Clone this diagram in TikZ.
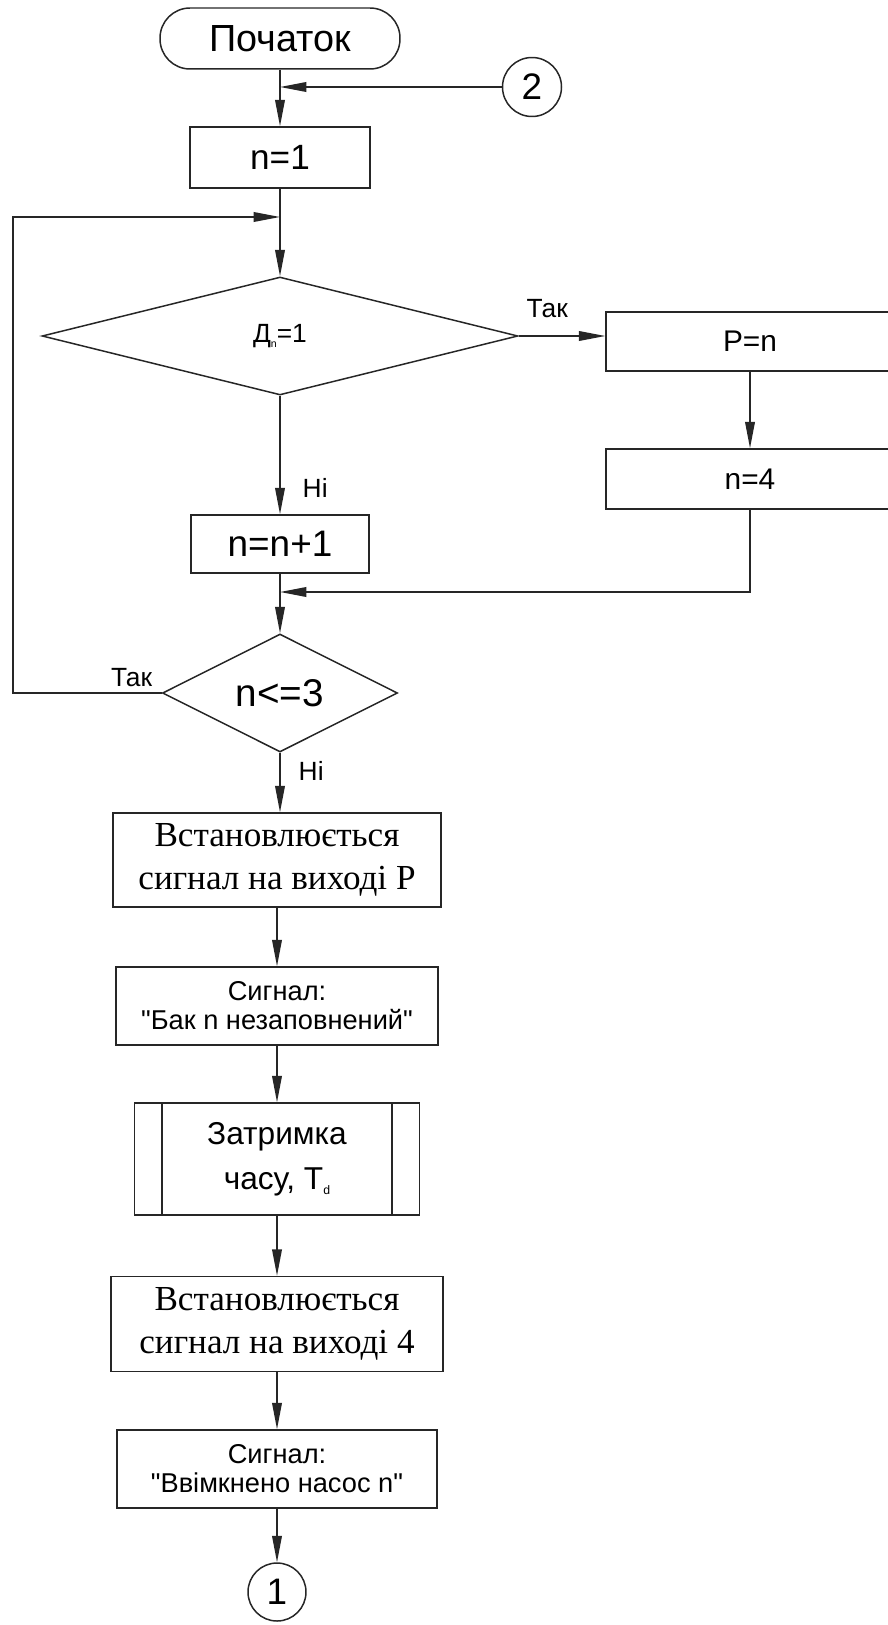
\documentclass[tikz,border=0pt]{standalone}
\usepackage{fontspec}
\setmainfont{Liberation Sans}
\newfontfamily\timesfont{Liberation Serif}
\usetikzlibrary{shapes.geometric,arrows.meta}

\tikzset{
  line/.style={draw=black!85, line width=0.85pt},
  arr/.style={line, -{Triangle[length=15pt,width=5.5pt]}},
  block/.style={line, rectangle, inner sep=0pt, align=center},
  term/.style={block, rounded corners=0.6cm},
  decision/.style={line, diamond, inner sep=0pt},
  conn/.style={line, circle, inner sep=0pt, minimum size=1.18cm, font=\fontsize{21}{21}\selectfont},
  lbl/.style={inner sep=0pt, font=\fontsize{15}{15}\selectfont},
  serifbox/.style={block, font=\timesfont\fontsize{20}{24.5}\selectfont},
  msgbox/.style={block, font=\fontsize{15.5}{16.5}\selectfont},
}

\begin{document}
\begin{tikzpicture}[x=0.02cm,y=-0.02cm]
\useasboundingbox (0,0) rectangle (887,1625);

% upper part
\node[term, minimum width=4.8cm, minimum height=1.22cm, font=\fontsize{21.5}{21.5}\selectfont] (start) at (280,38.5) {Початок};
\node[conn] (c2) at (532,87) {2};
\node[block, minimum width=3.6cm, minimum height=1.22cm, font=\fontsize{20}{20}\selectfont] (n1) at (280,157.5) {n=1};
\node[decision, minimum width=9.52cm, minimum height=2.36cm, font=\fontsize{15}{15}\selectfont] (d1) at (280,336) {Д\raisebox{-0.35ex}{\fontsize{6}{6}\selectfont n}=1};
\node[block, minimum width=3.56cm, minimum height=1.16cm, font=\fontsize{21}{21}\selectfont] (nn1) at (280,544) {n=n+1};
\node[block, minimum width=5.76cm, minimum height=1.18cm, font=\fontsize{17}{17}\selectfont] (pn) at (750,341.5) {P=n};
\node[block, minimum width=5.76cm, minimum height=1.2cm, font=\fontsize{17}{17}\selectfont] (n4) at (750,479) {n=4};
\node[decision, minimum width=4.7cm, minimum height=2.36cm, font=\fontsize{22}{22}\selectfont] (d2) at (280,693) {n<=3};

% lower part
\node[serifbox, minimum width=6.56cm, minimum height=1.88cm] (b1) at (277,860) {Встановлюється\\сигнал на виході P};
\node[msgbox, minimum width=6.44cm, minimum height=1.56cm] (b2) at (277,1006) {Сигнал:\\\textquotedbl Бак n незаповнений\textquotedbl};
\node[block, minimum width=5.7cm, minimum height=2.24cm, font=\fontsize{18}{25.5}\selectfont] (td) at (277,1159) {Затримка\\часу, T\raisebox{-0.3ex}{\fontsize{7}{7}\selectfont d}};
\draw[line] ([xshift=0.56cm]td.north west) -- ([xshift=0.56cm]td.south west);
\draw[line] ([xshift=-0.56cm]td.north east) -- ([xshift=-0.56cm]td.south east);
\node[serifbox, minimum width=6.64cm, minimum height=1.9cm] (b3) at (277,1324) {Встановлюється\\сигнал на виході 4};
\node[msgbox, minimum width=6.4cm, minimum height=1.56cm] (b4) at (277,1469) {Сигнал:\\\textquotedbl Ввімкнено насос n\textquotedbl};
\node[conn, minimum size=1.16cm] (c1) at (277,1592) {1};

% joints
\coordinate (j2) at (280,217);
\coordinate (j3) at (280,592);
\coordinate (lx) at (13,0);

% connectors
\draw[arr] (start) -- (n1);
\draw[arr] (c2.west) -- (c2.west -| start.south);
\draw[arr] (n1) -- (d1);
\draw[arr] (d1.east) -- node[lbl, above=0.34cm, pos=0.33] (yes1) {Так} (d1.east -| pn.west);
\draw[arr] (d1.south) -- node[lbl, right=0.44cm, pos=0.78] (no1) {Ні} (nn1.north);
\draw[arr] (pn) -- (n4);
\draw[arr] (n4.south) |- (j3);
\draw[arr] (nn1) -- (d2);
\draw[arr] (d2.west) -- node[lbl, anchor=south east, pos=0.06, yshift=3pt] (yes2) {Так} (lx |- d2.west) |- (j2);
\draw[arr] (d2.south) -- node[lbl, right=0.36cm, pos=0.3] (no2) {Ні} (d2.south |- b1.north);
\draw[arr] (b1) -- (b2);
\draw[arr] (b2) -- (td);
\draw[arr] (td) -- (b3);
\draw[arr] (b3) -- (b4);
\draw[arr] (b4) -- (c1);
\end{tikzpicture}
\end{document}
